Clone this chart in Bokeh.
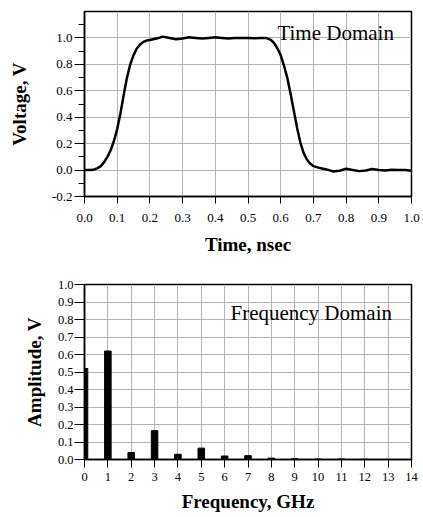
from bokeh.plotting import figure
from bokeh.layouts import column
from bokeh.models import Range1d, SingleIntervalTicker, Label, ColumnDataSource, NumeralTickFormatter
from bokeh.embed import file_html
from bokeh.resources import INLINE

# ---- data ----
time_ns = [0.00, 0.02, 0.03, 0.04, 0.05, 0.06, 0.07, 0.08, 0.09, 0.10, 0.11, 0.12,
           0.13, 0.14, 0.15, 0.16, 0.17, 0.18, 0.19, 0.20, 0.22, 0.24, 0.26, 0.28,
           0.30, 0.32, 0.34, 0.36, 0.38, 0.40, 0.42, 0.44, 0.46, 0.48, 0.50, 0.52,
           0.54, 0.555, 0.57, 0.58, 0.59, 0.60, 0.61, 0.62, 0.63, 0.64, 0.65, 0.66,
           0.67, 0.68, 0.69, 0.70, 0.72, 0.74, 0.76, 0.78, 0.80, 0.82, 0.84, 0.86,
           0.88, 0.90, 0.92, 0.94, 0.96, 0.98, 1.00]
voltage_v = [0.0, 0.0, 0.005, 0.015, 0.03, 0.06, 0.10, 0.15, 0.22, 0.31, 0.43, 0.57,
             0.70, 0.80, 0.87, 0.92, 0.95, 0.97, 0.98, 0.985, 0.995, 1.01, 1.0, 0.99,
             0.995, 1.005, 1.0, 0.995, 1.0, 1.005, 1.0, 0.995, 1.0, 1.0, 1.0, 0.998,
             1.0, 1.0, 0.985, 0.96, 0.92, 0.87, 0.79, 0.70, 0.58, 0.45, 0.32, 0.21,
             0.13, 0.08, 0.05, 0.03, 0.015, 0.005, -0.01, -0.005, 0.01, 0.0, -0.008, -0.003,
             0.008, 0.0, -0.003, 0.002, 0.0, 0.0, -0.005]

freq_ghz = [0, 1, 2, 3, 4, 5, 6, 7, 8, 9, 10, 11, 12, 13]
amplitude_v = [0.52, 0.62, 0.04, 0.165, 0.03, 0.065, 0.02, 0.022, 0.008, 0.005,
               0.003, 0.003, 0.002, 0.001]

FONT = "Liberation Serif"
GRID = "#b4b4b4"


def style(p, tick_size):
    p.outline_line_color = "black"
    p.outline_line_width = 1.5
    p.background_fill_color = "white"
    p.border_fill_color = "white"
    for ax in (p.xaxis[0], p.yaxis[0]):
        ax.axis_line_color = "black"
        ax.axis_line_width = 1.5
        ax.major_tick_line_color = "black"
        ax.minor_tick_line_color = "black"
        ax.major_label_text_font = FONT
        ax.major_label_text_font_size = tick_size
        ax.major_label_text_color = "black"
        ax.axis_label_text_font = FONT
        ax.axis_label_text_font_style = "bold"
        ax.axis_label_text_font_size = "19px"
        ax.axis_label_text_color = "black"
    p.xgrid.grid_line_color = GRID
    p.ygrid.grid_line_color = GRID
    p.xgrid.grid_line_width = 1
    p.ygrid.grid_line_width = 1


# ---- top: time domain ----
p1 = figure(width=423, height=260, output_backend="svg", toolbar_location=None,
            x_range=Range1d(0, 1), y_range=Range1d(-0.2, 1.2),
            min_border_left=70, min_border_right=7, min_border_top=11,
            min_border_bottom=64)
style(p1, "13px")
p1.xaxis.ticker = SingleIntervalTicker(interval=0.1, num_minor_ticks=0)
p1.yaxis.ticker = SingleIntervalTicker(interval=0.2, num_minor_ticks=2)
p1.xaxis.formatter = NumeralTickFormatter(format="0.0")
p1.yaxis.formatter = NumeralTickFormatter(format="0.0")
p1.xaxis.major_tick_in = 0
p1.xaxis.major_tick_out = 7
p1.yaxis.major_tick_in = 0
p1.yaxis.major_tick_out = 10
p1.yaxis.minor_tick_in = 0
p1.yaxis.minor_tick_out = 6
p1.xaxis.major_label_standoff = 10
p1.yaxis.major_label_standoff = 2
p1.xaxis.axis_label = "Time, nsec"
p1.yaxis.axis_label = "Voltage, V"
p1.xaxis.axis_label_standoff = 9
p1.yaxis.axis_label_standoff = 19
p1.line(time_ns, voltage_v, line_color="black", line_width=2.5)
p1.add_layout(Label(x=0.59, y=0.95, text="Time Domain", text_font=FONT,
                    text_font_size="21px", text_color="black",
                    text_baseline="bottom"))

# ---- bottom: frequency domain ----
p2 = figure(width=423, height=257, output_backend="svg", toolbar_location=None,
            x_range=Range1d(0, 14), y_range=Range1d(0, 1.0),
            min_border_left=84, min_border_right=12, min_border_top=24,
            min_border_bottom=58)
style(p2, "12.5px")
p2.xaxis.ticker = SingleIntervalTicker(interval=1, num_minor_ticks=0)
p2.yaxis.ticker = SingleIntervalTicker(interval=0.1, num_minor_ticks=0)
p2.yaxis.formatter = NumeralTickFormatter(format="0.0")
p2.xaxis.major_tick_in = 0
p2.xaxis.major_tick_out = 8
p2.yaxis.major_tick_in = 0
p2.yaxis.major_tick_out = 10
p2.xaxis.minor_tick_line_color = None
p2.yaxis.minor_tick_line_color = None
p2.xaxis.major_label_standoff = 5
p2.yaxis.major_label_standoff = 1
p2.xaxis.axis_label = "Frequency, GHz"
p2.yaxis.axis_label = "Amplitude, V"
p2.xaxis.axis_label_standoff = 7
p2.yaxis.axis_label_standoff = 10
src = ColumnDataSource(dict(x=freq_ghz, top=amplitude_v))
p2.vbar(x="x", top="top", bottom=0, width=0.28, source=src,
        fill_color="black", line_color="black")
p2.add_layout(Label(x=6.25, y=0.771, text="Frequency Domain", text_font=FONT,
                    text_font_size="21px", text_color="black",
                    text_baseline="bottom"))

layout = column(p1, p2, spacing=0)
open("out.html", "w").write(file_html(layout, INLINE))
